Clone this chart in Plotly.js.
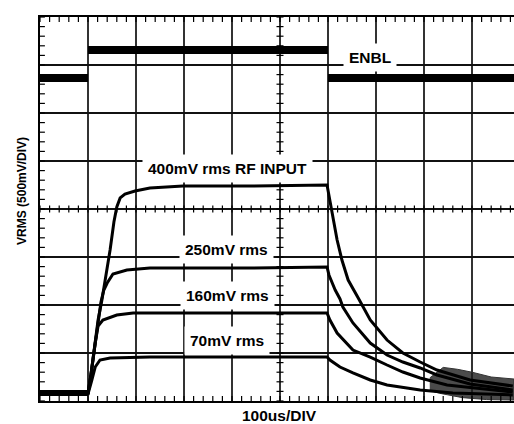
<!DOCTYPE html>
<html>
<head>
<meta charset="utf-8">
<script src="https://cdn.plot.ly/plotly-3.0.1.min.js"></script>
<style>html,body{margin:0;padding:0;background:#fff;}#chart{width:514px;height:424px;}</style>
</head>
<body>
<div id="chart"></div>
<script>
// time in microseconds (100 us/div), voltage in mV (500 mV/div)
var enblT = [0, 100, null, 100, 600, null, 600, 987.5];
var enblV = [3365, 3365, null, 3655, 3655, null, 3365, 3365];

// common pre-trigger baseline (noisy)
var baseT = [0, 100];
var baseV = [83, 83];

var rf400T = [0,100,106,115,121,129,138,146,154,160,167,177,198,229,298,438,598,602,606,613,619,629,642,663,688,723,756,792,827,896,985];
var rf400V = [83,83,271,583,844,1052,1313,1573,1865,2021,2115,2156,2188,2219,2240,2240,2250,2146,2042,1833,1677,1469,1260,1073,844,635,500,406,323,219,156];

var rf250T = [0,100,106,115,121,127,133,140,152,181,229,438,598,602,608,615,625,631,652,688,723,756,792,827,896,985];
var rf250V = [83,83,271,583,844,1031,1156,1229,1323,1365,1385,1385,1396,1313,1240,1156,1063,979,813,604,479,406,344,271,177,115];

var rf160T = [0,100,104,110,115,121,131,160,194,438,598,604,619,652,688,723,756,792,848,985];
var rf160V = [83,83,188,427,604,781,844,896,917,917,917,844,708,531,458,375,302,240,167,94];

var rf70T = [0,100,108,115,125,146,229,598,604,625,652,688,723,792,860,985];
var rf70V = [83,73,219,354,427,448,458,458,427,354,292,219,167,115,83,63];

// noisy tail envelope where the four decays merge
var tailT = [812, 840, 870, 900, 940, 987.5, 987.5, 930, 880, 833, 812];
var tailV = [240, 350, 330, 300, 250, 229, 10, 15, 35, 80, 110];

var labels = ["ENBL", "400mV rms RF INPUT", "250mV rms", "160mV rms", "70mV rms"];
var labelT = [687, 390, 388, 390, 390];
var labelV = [3583, 2427, 1573, 1104, 635];

var xTitle = "100us/DIV";
var yTitle = "VRMS (500mV/DIV)";

var xMax = 987.5, yMax = 4000;
var xDiv = 100, yDiv = 500, subDiv = 5;

function tr(x, y, w) {
  return {x: x, y: y, type: 'scatter', mode: 'lines', line: {color: '#000', width: w}, hoverinfo: 'skip', showlegend: false};
}

// graticule sub-division ticks, derived from the axis scale
var xs = [], ys = [];
for (var t = 0; t <= xMax + 1e-6; t += xDiv / subDiv) xs.push(t);
for (var v = 0; v <= yMax + 1e-6; v += yDiv / subDiv) ys.push(v);
function fill(n, val) { var a = []; for (var i = 0; i < n; i++) a.push(val); return a; }
function tickTrace(x, y, sym, size) {
  return {x: x, y: y, type: 'scatter', mode: 'markers', cliponaxis: true, hoverinfo: 'skip', showlegend: false,
    marker: {symbol: sym, size: size, color: '#000', line: {color: '#000', width: 1.2}}};
}

var data = [
  {x: tailT, y: tailV, type: 'scatter', mode: 'lines', fill: 'toself', fillcolor: 'rgba(30,30,30,0.8)',
    line: {color: '#333', width: 1}, hoverinfo: 'skip', showlegend: false},
  tr(enblT, enblV, 8),
  tr(baseT, baseV, 6),
  tr(rf400T, rf400V, 3),
  tr(rf250T, rf250V, 3),
  tr(rf160T, rf160V, 3),
  tr(rf70T, rf70V, 3),
  tickTrace(xs, fill(xs.length, yMax), 'line-ns', 7),
  tickTrace(xs, fill(xs.length, 0), 'line-ns', 7),
  tickTrace(xs, fill(xs.length, yMax / 2), 'line-ns', 5),
  tickTrace(fill(ys.length, 0), ys, 'line-ew', 7),
  tickTrace(fill(ys.length, 5 * xDiv), ys, 'line-ew', 5)
];

var fam = '"Liberation Sans", Arial, sans-serif';
var annotations = labels.map(function (s, i) {
  return {x: labelT[i], y: labelV[i], xref: 'x', yref: 'y', text: '<b>' + s + '</b>', showarrow: false,
    font: {family: fam, size: 15.5, color: '#000'}, bgcolor: '#fff', borderpad: 5};
});
annotations.push({xref: 'paper', yref: 'paper', x: 0.506, y: -0.0365, xanchor: 'center', yanchor: 'middle',
  text: '<b>' + xTitle + '</b>', showarrow: false, font: {family: fam, size: 15.5, color: '#000'}});
annotations.push({xref: 'paper', yref: 'paper', x: -0.038, y: 0.547, xanchor: 'center', yanchor: 'middle',
  textangle: -90, text: '<b>' + yTitle + '</b>', showarrow: false, font: {family: fam, size: 12, color: '#000'}});

var layout = {
  width: 514, height: 424,
  margin: {l: 40, r: 0, t: 17, b: 23, pad: 0},
  paper_bgcolor: '#fff', plot_bgcolor: '#fff',
  showlegend: false, hovermode: false,
  font: {family: fam, color: '#000'},
  xaxis: {range: [0, xMax], tickmode: 'linear', dtick: xDiv, tick0: 0, showgrid: true, gridcolor: '#333', gridwidth: 1.5,
    zeroline: false, showline: true, linecolor: '#000', linewidth: 2, mirror: true,
    ticks: '', showticklabels: false},
  yaxis: {range: [0, yMax], tickmode: 'linear', dtick: yDiv, tick0: 0, showgrid: true, gridcolor: '#111', gridwidth: 1.4,
    zeroline: false, showline: true, linecolor: '#000', linewidth: 2,
    ticks: '', showticklabels: false},
  annotations: annotations
};

Plotly.newPlot('chart', data, layout, {displayModeBar: false, staticPlot: true});
</script>
</body>
</html>
